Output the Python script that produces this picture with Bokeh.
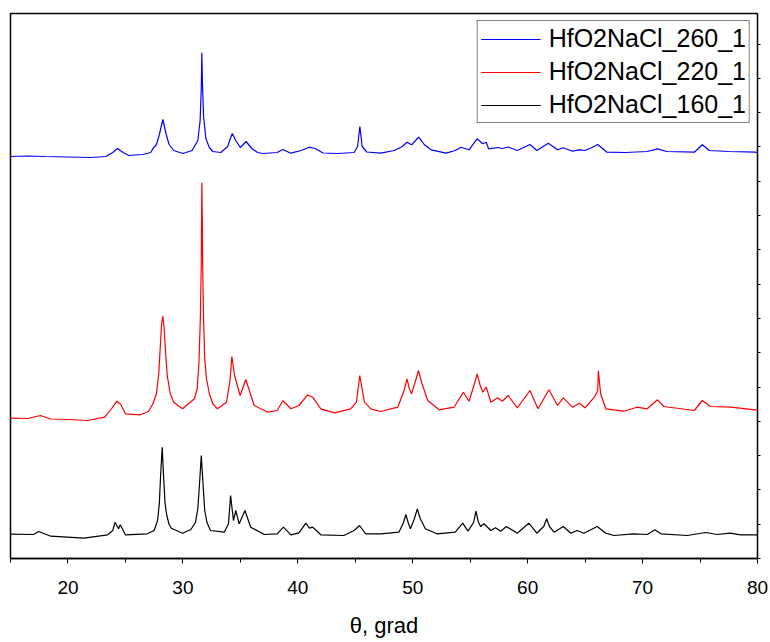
from bokeh.plotting import figure
from bokeh.models import Range1d, LinearAxis, SingleIntervalTicker, CustomJSTickFormatter
from bokeh.embed import file_html
from bokeh.resources import INLINE

# Stacked diffraction patterns (intensity in arbitrary units, offsets included)
theta_260 = [15.0, 16.5, 18.0, 20.0, 22.0, 23.3, 23.9, 24.3, 24.8, 25.3, 26.5, 27.2, 27.4, 27.7,
             27.95, 28.26, 28.55, 28.8, 29.2, 30.0, 30.8, 31.3, 31.5, 31.6, 31.65, 31.7, 31.8,
             32.0, 32.3, 32.6, 33.3, 33.9, 34.1, 34.3, 34.6, 35.0, 35.5, 36.0, 36.5, 37.0, 38.2,
             38.7, 39.4, 40.3, 41.0, 41.5, 42.2, 43.5, 44.9, 45.2, 45.4, 45.6, 46.0, 47.2, 48.4,
             49.1, 49.5, 49.9, 50.25, 50.5, 50.75, 51.0, 51.6, 52.9, 53.7, 54.2, 54.9, 55.6, 56.1,
             56.4, 56.6, 57.4, 57.8, 58.3, 59.1, 60.2, 60.8, 61.8, 62.6, 63.1, 63.9, 64.5, 65.0,
             65.6, 66.1, 66.9, 68.5, 70.4, 71.3, 72.1, 74.5, 75.2, 75.8, 77.5, 79.8, 80.0]
int_260 = [402, 402.5, 402, 401.5, 401, 402, 406, 410, 406, 403, 404, 406, 410, 414,
           424, 439, 424, 414, 408, 405, 408, 418, 438, 470, 505.7, 476, 442,
           420, 411, 407, 406, 412, 419, 425, 418, 411, 417, 410, 406, 405, 406,
           409, 405.3, 408, 411.3, 410, 405.5, 405, 406, 412, 432, 412, 406.5, 405.3, 408,
           412, 416.3, 413.7, 418, 421.3, 418, 414, 408.7, 405.3, 408, 411.3, 408.7, 419.7, 414.7,
           416.3, 409.7, 411, 410, 411.5, 408, 414, 408, 415.3, 408.7, 410.7, 407.3, 408.7, 408,
           411, 414, 406.3, 406, 407, 409.7, 407, 406.3, 413.7, 408, 407, 406.3, 406]

theta_220 = [15.0, 16.5, 17.6, 18.5, 20.0, 21.7, 23.2, 23.8, 24.26, 24.6, 25.0, 26.3, 27.0, 27.4,
             27.7, 27.9, 28.05, 28.15, 28.26, 28.37, 28.5, 28.65, 28.9, 29.2, 29.97, 31.0, 31.25,
             31.4, 31.52, 31.6, 31.65, 31.7, 31.72, 31.8, 31.9, 32.05, 32.3, 32.6, 33.0, 33.8,
             34.1, 34.26, 34.5, 34.98, 35.48, 36.2, 37.4, 38.2, 38.7, 39.4, 40.1, 40.85, 41.3,
             42.0, 43.2, 44.6, 45.1, 45.39, 45.8, 46.35, 47.2, 48.7, 49.25, 49.5, 49.7, 49.9,
             50.25, 50.5, 50.8, 51.3, 52.3, 53.6, 54.4, 54.9, 55.35, 55.6, 55.85, 56.1, 56.4,
             56.8, 57.4, 57.8, 58.3, 59.1, 60.2, 60.9, 61.85, 62.6, 63.1, 63.9, 64.5, 65.0,
             65.8, 66.1, 66.15, 66.35, 66.8, 68.4, 69.5, 70.4, 71.3, 71.85, 74.5, 75.2, 75.9,
             77.7, 79.8, 80.0]
int_220 = [140.3, 140, 143, 139.5, 139, 138, 141.3, 150, 157.3, 154, 144.7, 143.7, 147, 154.7,
           165, 185, 215, 235, 242.3, 230, 205, 182, 165, 156.3, 149.7, 159.7, 170,
           196.3, 240, 296, 375.7, 330, 295, 240, 200, 180, 165, 155, 149.7, 156.3,
           178, 202, 183, 163, 179, 153, 146.3, 148, 157.7, 149.7, 153, 163.7, 161.3,
           149.7, 145.7, 149.7, 156.3, 183, 156.3, 149.7, 147, 151.3, 168, 179.7, 170, 164.7,
           178, 188, 175, 158, 148.7, 151.3, 166.3, 157.3, 174, 184.7, 174, 166.3, 171.3,
           156.3, 160.7, 157.3, 163, 150.7, 168, 149.7, 168.7, 153, 160.7, 151.3, 155.3, 150.7,
           161.3, 168, 188, 164.7, 149.7, 147.3, 151.3, 149.7, 158.7, 152, 148, 158, 152,
           151.3, 148.7, 148]

theta_160 = [15.0, 17.0, 17.45, 18.5, 21.4, 23.45, 23.9, 24.1, 24.4, 24.55, 25.0, 26.9, 27.5, 27.8,
             27.95, 28.05, 28.2, 28.33, 28.45, 28.6, 28.8, 29.0, 29.97, 30.7, 31.1, 31.3, 31.45,
             31.6, 31.75, 31.9, 32.1, 32.4, 33.6, 33.97, 34.15, 34.4, 34.6, 34.9, 35.4, 35.9,
             37.1, 38.2, 38.75, 39.4, 40.1, 40.7, 41.0, 41.3, 42.0, 44.0, 44.9, 45.37, 45.9,
             47.2, 48.8, 49.2, 49.4, 49.6, 49.8, 50.15, 50.4, 50.65, 51.1, 52.1, 53.7, 54.35,
             54.8, 55.3, 55.5, 55.7, 55.9, 56.2, 56.8, 57.2, 57.65, 58.15, 59.1, 60.1, 60.8,
             61.4, 61.65, 61.9, 62.3, 63.1, 63.75, 64.3, 64.9, 66.05, 66.8, 67.5, 69.2, 70.4,
             71.07, 71.6, 73.9, 75.5, 76.5, 77.6, 78.55, 80.0]
int_160 = [24.3, 24, 27, 22.3, 20.3, 23.7, 28, 36.3, 29.7, 33.7, 23.7, 24.7, 28, 38,
           55, 80, 111.3, 80, 55, 43, 34, 30.3, 25.3, 29, 36.3, 50, 75,
           103, 75, 48, 36, 28, 26.3, 34.7, 63, 38, 48, 34.7, 48, 31.3,
           24, 24.7, 31.3, 23.7, 25.7, 35.3, 30.3, 31.3, 23.7, 23, 28, 33, 24.7,
           24.7, 26.3, 36, 44, 36, 29.7, 40, 49.7, 40, 29.7, 24.7, 26.3, 35.3,
           27.3, 36, 47.3, 37, 32, 34.7, 28, 30.7, 27.3, 32, 25.3, 35.3, 25.3,
           32, 39.7, 32, 26.3, 32, 25.3, 28, 25.3, 32, 25.3, 23, 24.7, 24,
           28.7, 24.7, 23, 26, 24, 25.3, 23.7, 23.7]

series_names = ["HfO2NaCl_260_1", "HfO2NaCl_220_1", "HfO2NaCl_160_1"]
series_colors = ["#0000FF", "#FF0000", "#000000"]

FONT = "Liberation Sans"

p = figure(width=770, height=642, output_backend="svg", toolbar_location=None,
           x_range=Range1d(15, 80), y_range=Range1d(0, 545),
           min_border_left=10, min_border_right=13, min_border_top=13, min_border_bottom=84)
p.background_fill_color = "white"
p.border_fill_color = "white"
p.outline_line_color = "black"
p.outline_line_width = 1.5
p.grid.visible = False
p.yaxis.visible = False

for xs, ys, name, color in zip([theta_260, theta_220, theta_160],
                               [int_260, int_220, int_160],
                               series_names, series_colors):
    p.line(xs, ys, line_color=color, line_width=1.2, legend_label=name)

# bottom axis
xa = p.xaxis[0]
xa.ticker = SingleIntervalTicker(interval=10, num_minor_ticks=2)
xa.axis_line_color = "black"
xa.axis_line_width = 1.5
xa.major_tick_in = 0
xa.major_tick_out = 5
xa.minor_tick_in = 0
xa.minor_tick_out = 4
xa.major_tick_line_color = "black"
xa.minor_tick_line_color = "black"
xa.major_label_text_font = FONT
xa.major_label_text_font_size = "19px"
xa.major_label_text_color = "black"
xa.major_label_standoff = 17
xa.axis_label = "θ, grad"
xa.axis_label_text_font = FONT
xa.axis_label_text_font_size = "22px"
xa.axis_label_text_font_style = "normal"
xa.axis_label_text_color = "black"
xa.axis_label_standoff = 16

# right axis: short outward ticks, no labels
right = LinearAxis(ticker=SingleIntervalTicker(interval=34.3, num_minor_ticks=0),
                   formatter=CustomJSTickFormatter(code="return ''"),
                   major_tick_in=0, major_tick_out=3,
                   minor_tick_in=0, minor_tick_out=0, axis_line_color=None,
                   major_label_standoff=0)
p.add_layout(right, "right")

lg = p.legend[0]
lg.location = "top_right"
lg.margin = 7
lg.padding = 3
lg.spacing = 4
lg.glyph_width = 60
lg.glyph_height = 26
lg.label_height = 26
lg.label_standoff = 8
lg.label_text_font = FONT
lg.label_text_font_size = "25px"
lg.label_text_color = "black"
lg.border_line_color = "black"
lg.border_line_width = 1
lg.background_fill_color = "white"
lg.background_fill_alpha = 1.0

open("out.html", "w").write(file_html(p, INLINE))
